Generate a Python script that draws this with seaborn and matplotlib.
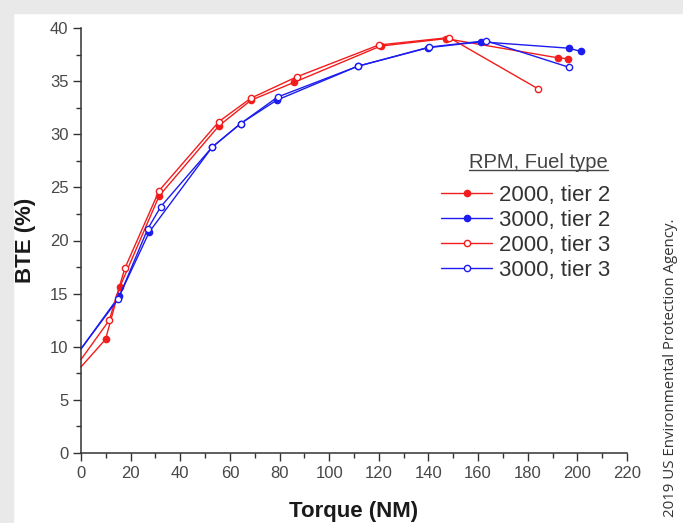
import matplotlib
matplotlib.use("Agg")
import matplotlib.pyplot as plt
import seaborn as sns
import pandas as pd
from matplotlib.patches import Rectangle
from matplotlib.lines import Line2D

# ---- data ----
torque_2000_t2 = [0, 9.9, 15.6, 31.5, 55.6, 68.5, 86.0, 120.7, 147.0, 192.0, 196.4]
bte_2000_t2 = [8.1, 10.7, 15.6, 24.2, 30.8, 33.2, 34.9, 38.3, 39.0, 37.2, 37.1]

torque_3000_t2 = [0, 15.5, 27.5, 52.9, 64.3, 78.8, 111.5, 140.0, 161.2, 196.5, 201.4]
bte_3000_t2 = [9.8, 14.8, 20.8, 28.8, 31.0, 33.2, 36.4, 38.15, 38.7, 38.1, 37.8]

torque_2000_t3 = [0, 11.4, 17.7, 31.5, 55.6, 68.5, 86.9, 120.0, 148.3, 184.0]
bte_2000_t3 = [8.8, 12.5, 17.4, 24.7, 31.2, 33.4, 35.4, 38.4, 39.1, 34.3]

torque_3000_t3 = [0, 15.0, 26.9, 32.2, 52.9, 64.3, 79.2, 111.5, 140.3, 163.2, 196.7]
bte_3000_t3 = [9.8, 14.5, 21.1, 23.2, 28.8, 31.0, 33.5, 36.4, 38.2, 38.8, 36.3]

series_labels = ["2000, tier 2", "3000, tier 2", "2000, tier 3", "3000, tier 3"]
legend_title = "RPM, Fuel type"
x_ticks = list(range(0, 221, 20))
y_ticks = list(range(0, 41, 5))

sns.set_theme(style="ticks")
plt.rcParams["font.family"] = ["Liberation Sans", "DejaVu Sans"]

RED = "#f21c1c"
BLUE = "#1c1cf0"
DARK = "#333333"

fig = plt.figure(figsize=(6.83, 5.23), dpi=100)
fig.patch.set_facecolor("white")
# light grey frame of the source image
fig.patches.append(Rectangle((0, 1 - 13 / 523), 1, 13 / 523, transform=fig.transFigure,
                             color="#e9e9e9", zorder=-10))
fig.patches.append(Rectangle((0, 0), 13 / 683, 1, transform=fig.transFigure,
                             color="#e9e9e9", zorder=-10))

ax = fig.add_axes([81 / 683, 1 - 453 / 523, (627 - 81) / 683, (453 - 28) / 523])
ax.set_facecolor("white")

specs = [
    (torque_2000_t2, bte_2000_t2, RED, RED),
    (torque_3000_t2, bte_3000_t2, BLUE, BLUE),
    (torque_2000_t3, bte_2000_t3, RED, "white"),
    (torque_3000_t3, bte_3000_t3, BLUE, "white"),
]
for (tx, by, col, fc), lab in zip(specs, series_labels):
    df = pd.DataFrame({"Torque": tx, "BTE": by})
    sns.lineplot(data=df, x="Torque", y="BTE", ax=ax, color=col, sort=False,
                 marker="o", markersize=4.5, markerfacecolor=fc,
                 markeredgecolor=col, markeredgewidth=1.0, linewidth=1.0,
                 label=lab, clip_on=False)

for ln in ax.get_lines():
    ln.set_markevery(slice(1, None))

ax.set_xlim(0, 220)
ax.set_ylim(0, 40)
ax.set_xticks(x_ticks)
ax.set_yticks(y_ticks)
ax.set_xticks(list(range(10, 220, 20)), minor=True)
ax.set_yticks([2.5 + 5 * i for i in range(8)], minor=True)
ax.tick_params(axis="both", which="major", direction="out", length=6, width=1,
               color=DARK, labelsize=12, labelcolor="#484848", pad=3)
ax.tick_params(axis="both", which="minor", direction="out", length=3.5, width=1,
               color=DARK)
for s in ["top", "right"]:
    ax.spines[s].set_visible(False)
for s in ["left", "bottom"]:
    ax.spines[s].set_color(DARK)
    ax.spines[s].set_linewidth(1.1)

ax.set_xlabel("Torque (NM)", fontsize=16, fontweight="bold", color="#1a1a1a", labelpad=15)
ax.set_ylabel("BTE (%)", fontsize=16, fontweight="bold", color="#1a1a1a", labelpad=10)

leg = ax.legend(loc="upper right", bbox_to_anchor=(610 / 683, 1 - 185 / 523),
                bbox_transform=fig.transFigure, frameon=False, fontsize=16,
                handlelength=2.3, handletextpad=0.3,
                labelspacing=0.18, borderpad=0, borderaxespad=0)
for t in leg.get_texts():
    t.set_color("#333333")

title = fig.text(608 / 683, 1 - 162 / 523, legend_title, ha="right", va="center",
                 fontsize=14.5, color="#444444")

fig.text(670 / 683, 1 - 368 / 523, "2019 US Environmental Protection Agency.",
         rotation=90, ha="center", va="center", fontsize=10.8,
         family=["Open Sans", "DejaVu Sans"], color="#333333")

# underline the legend title
fig.canvas.draw()
bb = title.get_window_extent(renderer=fig.canvas.get_renderer())
bbf = bb.transformed(fig.transFigure.inverted())
fig.add_artist(Line2D([bbf.x0, bbf.x1], [bbf.y0 + 1.5 / 523, bbf.y0 + 1.5 / 523],
                      transform=fig.transFigure, color="#444444", linewidth=1.0))

fig.savefig("out.png", dpi=100)
